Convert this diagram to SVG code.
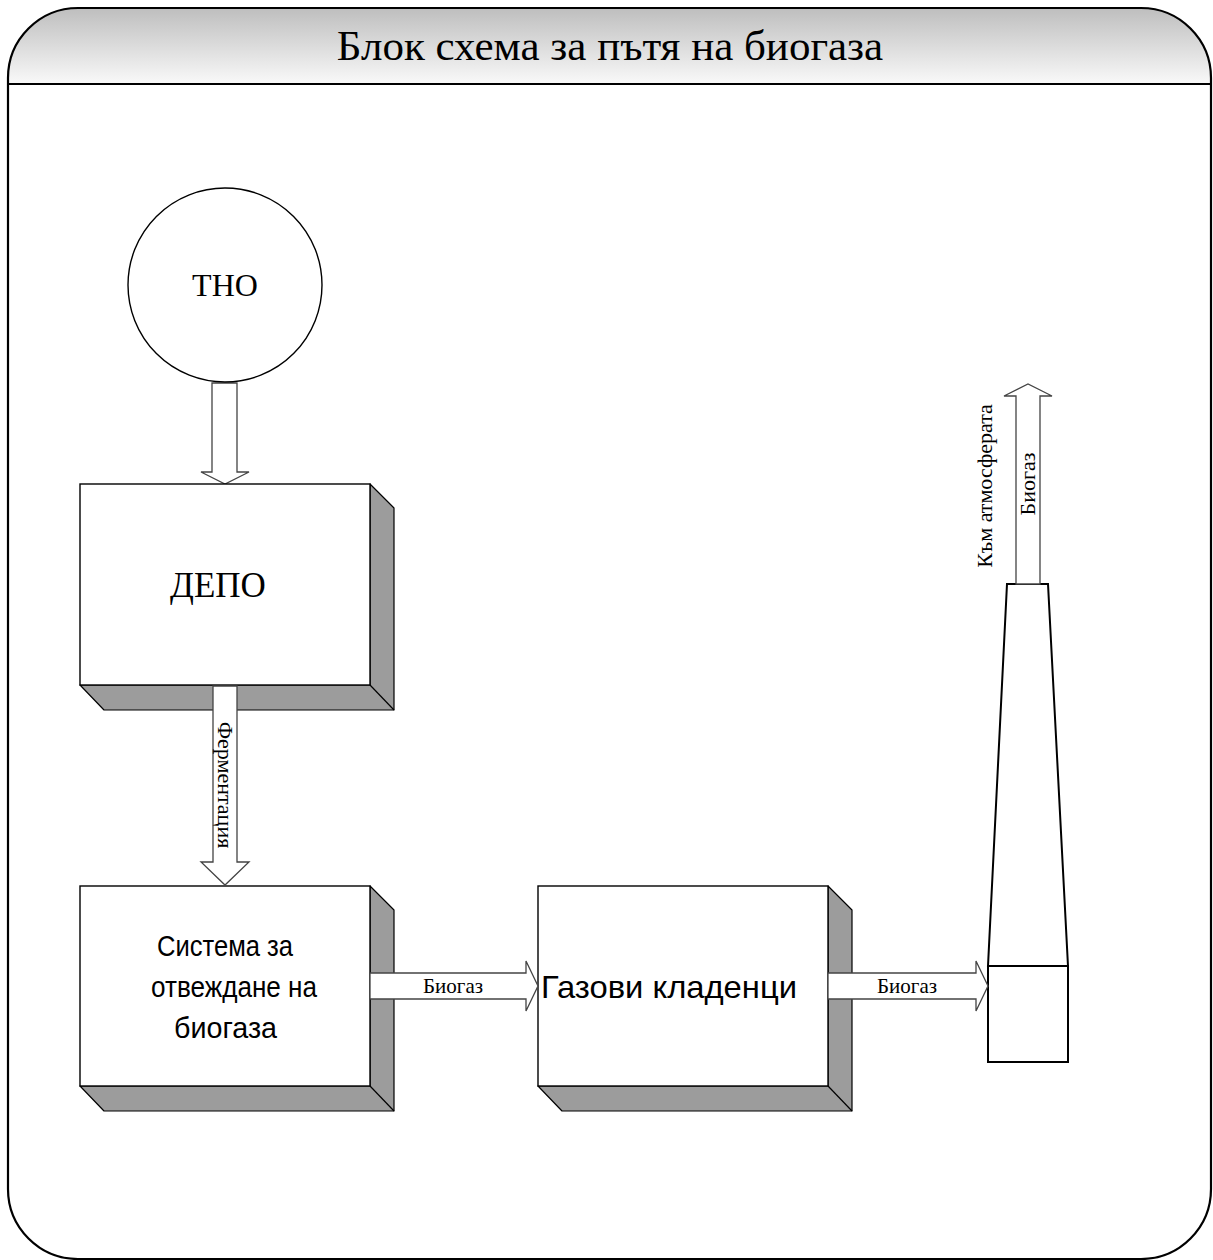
<svg xmlns="http://www.w3.org/2000/svg" width="1213" height="1260" viewBox="0 0 1213 1260">
<defs>
<linearGradient id="hdr" x1="0" y1="0" x2="0" y2="1">
<stop offset="0" stop-color="#bebebe"/>
<stop offset="1" stop-color="#f9f9f9"/>
</linearGradient>
<style>
.frame{fill:none;stroke:#000;stroke-width:2.2}
.face{fill:#fff;stroke:#000;stroke-width:1.4}
.shade{fill:#9c9c9c;stroke:#000;stroke-width:1.2;stroke-linejoin:round}
.arr{fill:#fff;stroke:#444;stroke-width:1.3}
.ser{font-family:"Liberation Serif","Times New Roman",serif;fill:#000}
.sans{font-family:"Liberation Sans",Arial,sans-serif;fill:#000}
.chim{fill:#fff;stroke:#000;stroke-width:2}
</style>
</defs>
<rect width="1213" height="1260" fill="#fff"/>
<g id="frame">
<path d="M8,84 L8,78 A70,70 0 0 1 78,8 L1141,8 A70,70 0 0 1 1211,78 L1211,84 Z" fill="url(#hdr)"/>
<path class="frame" d="M8,84 L8,78 A70,70 0 0 1 78,8 L1141,8 A70,70 0 0 1 1211,78 L1211,1189 A70,70 0 0 1 1141,1259 L78,1259 A70,70 0 0 1 8,1189 Z"/>
<line x1="8" y1="84" x2="1211" y2="84" stroke="#000" stroke-width="2.2"/>
<text class="ser" x="610" y="60" font-size="43" text-anchor="middle">Блок схема за пътя на биогаза</text>
</g>
<g id="connectors">
<path class="arr" d="M212,383 L237,383 L237,472 L249,472 L225,484 L201,472 L212,472 Z"/>
</g>
<g id="tno">
<circle cx="225" cy="285" r="97" fill="#fff" stroke="#000" stroke-width="1.4"/>
<text class="ser" x="225" y="296" font-size="32" text-anchor="middle">ТНО</text>
</g>
<g id="depo">
<path class="shade" d="M370,484 L394,508 L394,710 L104,710 L80,685 L370,685 Z"/>
<line x1="370" y1="685" x2="394" y2="710" stroke="#000" stroke-width="1.2"/>
<rect class="face" x="80" y="484" width="290" height="201"/>
<text class="ser" x="218" y="597" font-size="35" text-anchor="middle">ДЕПО</text>
</g>
<g id="sistema">
<path class="shade" d="M370,886 L394,910 L394,1111 L104,1111 L80,1086 L370,1086 Z"/>
<line x1="370" y1="1086" x2="394" y2="1111" stroke="#000" stroke-width="1.2"/>
<rect class="face" x="80" y="886" width="290" height="200"/>
<text class="sans" font-size="29" lengthAdjust="spacingAndGlyphs" x="157" y="956" textLength="136">Система за</text>
<text class="sans" font-size="29" lengthAdjust="spacingAndGlyphs" x="151" y="997" textLength="166">отвеждане на</text>
<text class="sans" font-size="29" lengthAdjust="spacingAndGlyphs" x="174" y="1038" textLength="103">биогаза</text>
</g>
<g id="kladenci">
<path class="shade" d="M828,886 L852,910 L852,1111 L562,1111 L538,1086 L828,1086 Z"/>
<line x1="828" y1="1086" x2="852" y2="1111" stroke="#000" stroke-width="1.2"/>
<rect class="face" x="538" y="886" width="290" height="200"/>
<text class="sans" x="541" y="998" font-size="32" lengthAdjust="spacingAndGlyphs" textLength="256">Газови кладенци</text>
</g>
<g id="chimney">
<path class="chim" d="M988,966 L1007,584 L1048,584 L1068,966 Z"/>
<rect class="chim" x="988" y="966" width="80" height="96"/>
</g>
<g id="connectors2">
<path class="arr" d="M213,686 L237,686 L237,862 L249,862 L225,885 L201,862 L213,862 Z"/>
<text class="ser" font-size="22" text-anchor="middle" transform="translate(218,785) rotate(90)">Ферментация</text>
<path class="arr" d="M370,973 L526,973 L526,961 L538,986 L526,1011 L526,999 L370,999 Z"/>
<text class="ser" x="453" y="993" font-size="21" text-anchor="middle">Биогаз</text>
<path class="arr" d="M828,973 L976,973 L976,961 L988,986 L976,1011 L976,999 L828,999 Z"/>
<text class="ser" x="907" y="993" font-size="21" text-anchor="middle">Биогаз</text>
<path class="arr" d="M1016,584 L1016,396 L1004,396 L1028,384 L1052,396 L1040,396 L1040,584 Z"/>
<text class="ser" font-size="22" text-anchor="middle" transform="translate(1035,484) rotate(-90)">Биогаз</text>
<text class="ser" font-size="22" text-anchor="middle" transform="translate(992,486) rotate(-90)">Към атмосферата</text>
</g>
</svg>
